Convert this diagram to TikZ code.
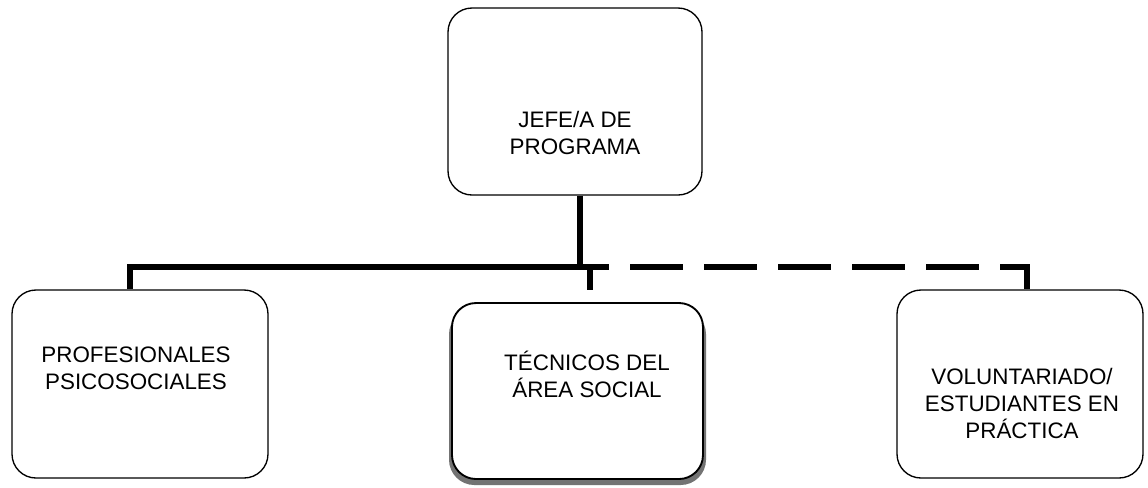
\documentclass[tikz,border=0pt]{standalone}
\usepackage{fontspec}
\setmainfont{Liberation Sans}
\usetikzlibrary{calc}
\begin{document}
\begin{tikzpicture}[x=0.75pt,y=-0.75pt,
  box/.style={draw=black,line width=1pt,rounded corners=18pt,fill=white,inner sep=0pt},
  lbl/.style={align=center,inner sep=0pt,font=\fontsize{16.8}{20.25}\selectfont},
  conn/.style={line width=4.8pt,line join=miter},
  dconn/.style={conn,dash pattern=on 39.75pt off 15.75pt,dash phase=25.5pt}]
\useasboundingbox (0,0) rectangle (1148,487);
% boxes
\node[box,minimum width=254*0.75pt,minimum height=187*0.75pt] (top) at (575,101.5) {};
\node[box,minimum width=256*0.75pt,minimum height=188*0.75pt] (left) at (140,384) {};
\fill[black!55,rounded corners=19pt] (449,309) rectangle (706,485);
\node[box,line width=1.4pt,minimum width=251*0.75pt,minimum height=176*0.75pt] (mid) at (577.5,391) {};
\node[box,minimum width=246*0.75pt,minimum height=188*0.75pt] (right) at (1020,384) {};
% labels
\node[lbl] (ttop) at (575,133) {JEFE/A DE\\PROGRAMA};
\node[lbl] (tleft) at (136,368) {PROFESIONALES\\PSICOSOCIALES};
\node[lbl] (tmid) at (587,374) {TÉCNICOS DEL\\ÁREA SOCIAL};
\node[lbl] (tright) at (1022,403) {VOLUNTARIADO/\\ESTUDIANTES EN\\PRÁCTICA};
% connectors
\coordinate (j) at (580,267);
\coordinate (mj) at (590,267);
\coordinate (lj) at (130,267);
\coordinate (rj) at (1027,267);
\coordinate (md) at (590,290);
\draw[conn] (top.south -| j) -- (j);
\draw[conn] (mj) -- (lj) -- (lj |- left.north);
\draw[conn] (mj) -- (md);
\draw[dconn] (mj) -- (rj) -- (rj |- right.north);
\end{tikzpicture}
\end{document}
